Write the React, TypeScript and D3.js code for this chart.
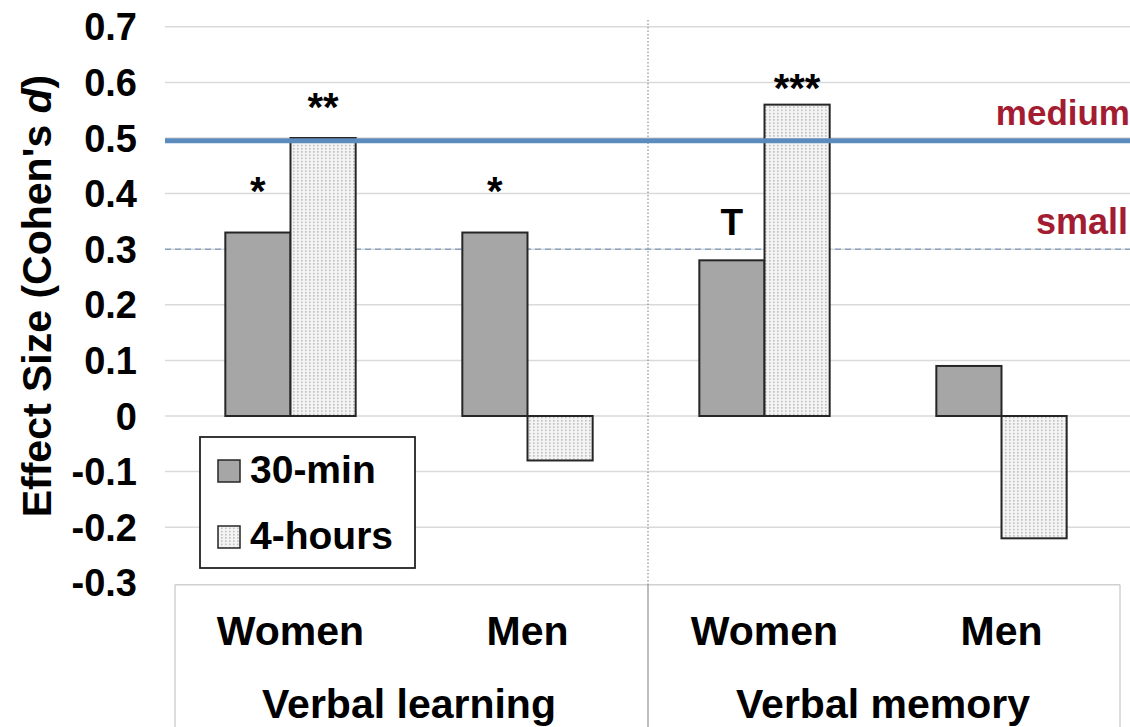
import React from "react";
import * as d3 from "d3";

const categories = ["Women", "Men", "Women", "Men"];
const groups = ["Verbal learning", "Verbal memory"];
const series = ["30-min", "4-hours"];
const thirtyMin = [0.33, 0.33, 0.28, 0.09];
const fourHours = [0.5, -0.08, 0.56, -0.22];
const yTicks = [0.7, 0.6, 0.5, 0.4, 0.3, 0.2, 0.1, 0, -0.1, -0.2, -0.3];
const sigLabels = [
  { cat: 0, s: 0, text: "*", at: 0.38 },
  { cat: 0, s: 1, text: "**", at: 0.53 },
  { cat: 1, s: 0, text: "*", at: 0.38 },
  { cat: 2, s: 0, text: "T", at: 0.325 },
  { cat: 2, s: 1, text: "***", at: 0.565 },
];
const refLines = [
  { name: "medium", value: 0.495 },
  { name: "small", value: 0.3 },
];

const W = 1130;
const H = 727;
const FONT = "'Liberation Sans', Arial, sans-serif";

export default function App() {
  const y = d3.scaleLinear().domain([-0.3, 0.7]).range([582.8, 26.8]);
  const x0 = d3
    .scaleBand<number>()
    .domain(d3.range(categories.length))
    .range([172, 1120])
    .paddingInner(0.45)
    .paddingOuter(0.225);
  const x1 = d3.scaleBand<number>().domain([0, 1]).range([0, x0.bandwidth()]);
  const step = x0.step();
  const left = 172;
  const right = 1120;
  const values = [thirtyMin, fourHours];
  const mid = left + step * 2;

  return (
    <svg width={W} height={H} style={{ display: "block", position: "absolute", left: 0, top: 0 }} fontFamily={FONT}>
      <defs>
        <pattern id="dots" width="4" height="3.2" patternUnits="userSpaceOnUse">
          <rect width="4" height="3.2" fill="#f4f4f4" />
          <rect x="1" y="0.8" width="1.6" height="1.4" fill="#b8b8b8" />
        </pattern>
      </defs>
      <rect width={W} height={H} fill="#fff" />
      {/* gridlines */}
      {yTicks.slice(0, -1).map((t) => (
        <line key={t} x1={165} x2={1130} y1={y(t)} y2={y(t)} stroke="#dadada" strokeWidth={1.5} />
      ))}
      {/* category box */}
      <line x1={left + 3} x2={right} y1={y(-0.3) + 2} y2={y(-0.3) + 2} stroke="#d0d0d0" strokeWidth={1.5} />
      <line x1={left + 3} x2={left + 3} y1={y(-0.3) + 2} y2={H} stroke="#d0d0d0" strokeWidth={1.5} />
      <line x1={right} x2={right} y1={y(-0.3) + 2} y2={H} stroke="#d0d0d0" strokeWidth={1.5} />
      <line x1={mid + 2} x2={mid + 2} y1={y(-0.3) + 2} y2={H} stroke="#a8a8a8" strokeWidth={1.5} />
      <line x1={mid + 2} x2={mid + 2} y1={20} y2={y(-0.3) + 2} stroke="#777" strokeWidth={1} strokeDasharray="1.5,2" />
      {/* y tick labels */}
      {yTicks.map((t) => (
        <text key={t} x={137} y={y(t)} dy="0.36em" textAnchor="end" fontSize={38} fontWeight="bold" fill="#000">
          {t === 0 ? "0" : t.toFixed(1)}
        </text>
      ))}
      {/* y title */}
      <text transform={`translate(51,${296}) rotate(-90)`} textAnchor="middle" fontSize={41} fontWeight="bold" fill="#000">
        Effect Size  (Cohen's <tspan fontStyle="italic">d</tspan>)
      </text>
      {/* small reference line */}
      <line x1={165} x2={1130} y1={y(refLines[1].value)} y2={y(refLines[1].value)} stroke="#8aa4c0" strokeWidth={1.5} strokeDasharray="6,4" />
      {/* bars */}
      {categories.map((c, i) =>
        values.map((vals, s) => {
          const v = vals[i];
          const bx = (x0(i) as number) + (x1(s) as number);
          const top = y(Math.max(0, v));
          const h = Math.abs(y(v) - y(0));
          return (
            <rect
              key={`${i}-${s}`}
              x={bx}
              y={top}
              width={x1.bandwidth()}
              height={h}
              fill={s === 0 ? "#a6a6a6" : "url(#dots)"}
              stroke="#262626"
              strokeWidth={2}
            />
          );
        })
      )}
      {/* medium reference line */}
      <line x1={165} x2={1130} y1={y(refLines[0].value)} y2={y(refLines[0].value)} stroke="#5b8cbd" strokeWidth={5} />
      {/* ref labels */}
      <text x={1130} y={y(refLines[0].value) - 16} textAnchor="end" fontSize={35} fontWeight="bold" fill="#a31d32">
        {refLines[0].name}
      </text>
      <text x={1128} y={y(refLines[1].value) - 15} textAnchor="end" fontSize={36} fontWeight="bold" fill="#a31d32">
        {refLines[1].name}
      </text>
      {/* significance */}
      {sigLabels.map((l, k) => (
        <text
          key={k}
          x={(x0(l.cat) as number) + (x1(l.s) as number) + x1.bandwidth() / 2}
          y={y(l.at)}
          textAnchor="middle"
          fontSize={l.text === "T" ? 37 : 40}
          fontWeight="bold"
          fill="#000"
        >
          {l.text}
        </text>
      ))}
      {/* legend */}
      <rect x={200} y={437} width={215} height={131} fill="#fff" stroke="#222" strokeWidth={1.8} />
      {series.map((s, k) => (
        <g key={s} transform={`translate(0,${k * 66})`}>
          <rect x={218} y={460} width={22} height={22} fill={k === 0 ? "#a6a6a6" : "url(#dots)"} stroke="#262626" strokeWidth={1.5} />
          <text x={250} y={483} fontSize={39} fontWeight="bold" fill="#000">
            {s}
          </text>
        </g>
      ))}
      {/* category labels */}
      {categories.map((c, i) => (
        <text key={i} x={(x0(i) as number) + x0.bandwidth() / 2} y={645} textAnchor="middle" fontSize={41} fontWeight="bold" fill="#000">
          {c}
        </text>
      ))}
      {groups.map((g, k) => (
        <text key={g} x={left + step * (2 * k + 1)} y={718} textAnchor="middle" fontSize={41} fontWeight="bold" fill="#000">
          {g}
        </text>
      ))}
    </svg>
  );
}
